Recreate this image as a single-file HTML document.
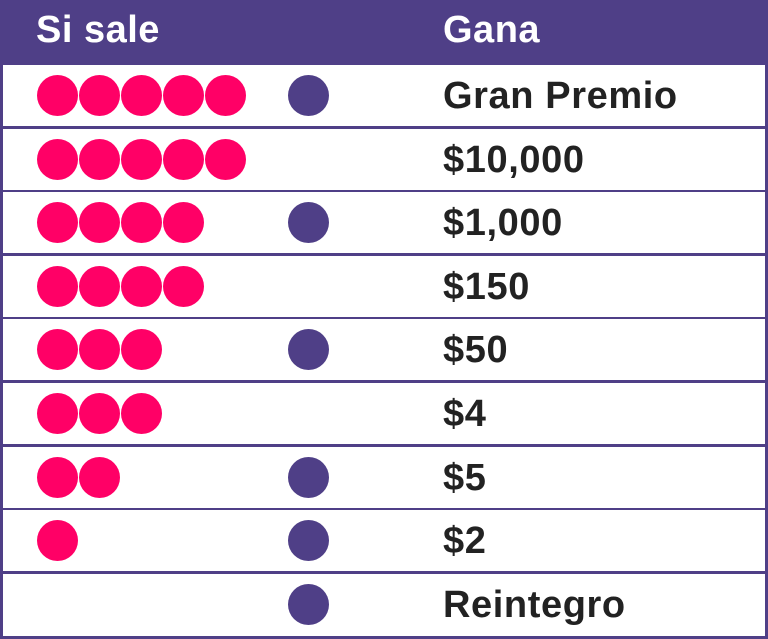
<!DOCTYPE html>
<html><head><style>
body{margin:0;width:768px;height:639px;overflow:hidden;background:#4f3f87;font-family:"Liberation Sans",sans-serif;position:relative;}
.row{position:absolute;left:3px;width:762px;height:61px;background:#fff;}
.c{position:absolute;top:10px;width:41px;height:41px;border-radius:50%;}
.p{background:#ff0066;}
.b{background:#4f3f87;left:285px;}
.t{position:absolute;left:440px;top:0;line-height:63px;font-weight:bold;font-size:38px;letter-spacing:0.6px;color:#222;}
.h{position:absolute;top:9px;color:#fff;font-weight:bold;font-size:38px;letter-spacing:0.5px;}
.c1{left:34px}.c2{left:76px}.c3{left:118px}.c4{left:160px}.c5{left:202px}
</style></head><body>
<div class="h" style="left:36px">Si sale</div>
<div class="h" style="left:443px">Gana</div>

<div class="row" style="top:65px"><div class="c p c1"></div><div class="c p c2"></div><div class="c p c3"></div><div class="c p c4"></div><div class="c p c5"></div><div class="c b"></div><div class="t">Gran Premio</div></div>
<div class="row" style="top:129px"><div class="c p c1"></div><div class="c p c2"></div><div class="c p c3"></div><div class="c p c4"></div><div class="c p c5"></div><div class="t">$10,000</div></div>
<div class="row" style="top:192px"><div class="c p c1"></div><div class="c p c2"></div><div class="c p c3"></div><div class="c p c4"></div><div class="c b"></div><div class="t">$1,000</div></div>
<div class="row" style="top:256px"><div class="c p c1"></div><div class="c p c2"></div><div class="c p c3"></div><div class="c p c4"></div><div class="t">$150</div></div>
<div class="row" style="top:319px"><div class="c p c1"></div><div class="c p c2"></div><div class="c p c3"></div><div class="c b"></div><div class="t">$50</div></div>
<div class="row" style="top:383px"><div class="c p c1"></div><div class="c p c2"></div><div class="c p c3"></div><div class="t">$4</div></div>
<div class="row" style="top:447px"><div class="c p c1"></div><div class="c p c2"></div><div class="c b"></div><div class="t">$5</div></div>
<div class="row" style="top:510px"><div class="c p c1"></div><div class="c b"></div><div class="t">$2</div></div>
<div class="row" style="top:574px;height:62px"><div class="c b"></div><div class="t">Reintegro</div></div>
</body></html>
